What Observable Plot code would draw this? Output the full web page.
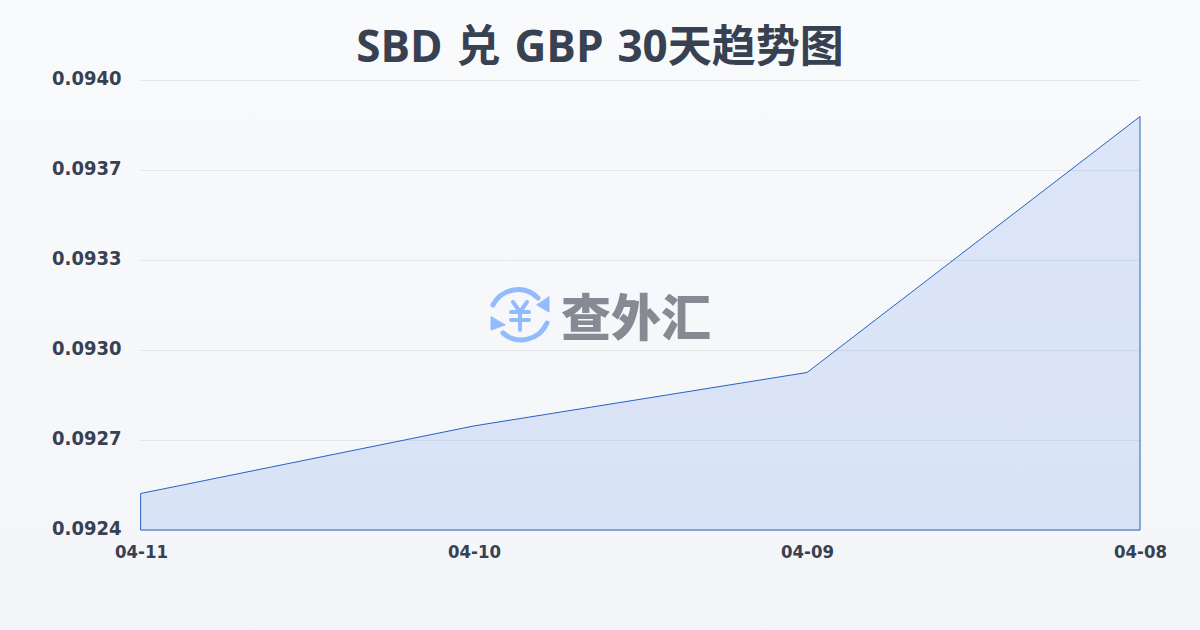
<!DOCTYPE html>
<html><head><meta charset="utf-8">
<script src="https://cdn.jsdelivr.net/npm/d3@7"></script>
<script src="https://cdn.jsdelivr.net/npm/@observablehq/plot@0.6"></script>
<style>
html,body{margin:0;padding:0}
#page{position:relative;width:1200px;height:630px;overflow:hidden;background:linear-gradient(180deg,#f9fafc,#f3f5f8);font-family:"Open Sans","Noto Sans CJK SC",sans-serif}
#title{position:absolute;left:0;right:0;top:14px;text-align:center;font-size:44px;font-weight:700;color:#374151;line-height:62px;font-family:"Open Sans","Noto Sans CJK SC",sans-serif;white-space:pre;word-spacing:2.5px}
#chart{position:absolute;left:0;top:0}
#chart svg text{font-stretch:condensed}
#mark{position:absolute;left:488px;top:285px;height:60px;display:flex;align-items:center}
#mark span{font:900 50px/60px "Noto Sans CJK SC",sans-serif;color:#858a93;margin-left:11px;letter-spacing:0;position:relative;top:-1px}
</style></head><body>
<div id="page"><div id="chart"></div>
<div id="title">SBD 兑 GBP 30天趋势图</div>
<div id="mark"><svg width="62" height="60" viewBox="0 0 62 60" fill="none" stroke="#93bbfb" stroke-width="5" stroke-linecap="round" stroke-linejoin="round">
<path d="M5 20A28 28 0 0 1 50 13"/><path d="M59 38A28 28 0 0 1 15 48"/>
<path d="M61 12V27L49 20Z" fill="#93bbfb" stroke="#93bbfb" stroke-width="1"/><path d="M3 32V45L17 40Z" fill="#93bbfb" stroke="#93bbfb" stroke-width="1"/>
<path d="M25 17L32 27L39 17M23 27H41M23 35H41M32 27V45" stroke-width="4"/></svg><span>查外汇</span></div>
</div>
<script>
const dates = ["04-11","04-10","04-09","04-08"];
const rates = [0.09253,0.09277,0.09296,0.09387];
const yTicks = [0.0924,0.09272,0.09304,0.09336,0.09368,0.094];
const yLabels = ["0.0924","0.0927","0.0930","0.0933","0.0937","0.0940"];
const rows = dates.map((d,i)=>({d,v:rates[i]}));
const chart = Plot.plot({
  width:1200,height:630,marginTop:80,marginBottom:100,marginLeft:140,marginRight:60,
  style:{background:"transparent",fontFamily:'"DejaVu Sans Condensed","DejaVu Sans",sans-serif'},
  x:{type:"point",domain:dates,padding:0,label:null},
  y:{domain:[0.0924,0.094],label:null},
  marks:[
    Plot.ruleY(yTicks,{stroke:"#e5e7eb",strokeWidth:1}),
    Plot.areaY(rows,{x:"d",y:"v",y1:0.0924,y2:"v",fill:"#2563eb",fillOpacity:0.13,stroke:"#2563c4",strokeWidth:1}),
    Plot.axisY({ticks:yTicks,tickSize:0,tickPadding:19,tickFormat:(t)=>yLabels[yTicks.indexOf(t)],fontSize:20,fontWeight:700,fill:"#374151",label:null,dy:-1.5}),
    Plot.axisX({tickSize:0,tickPadding:14,fontSize:18.4,fontWeight:700,fill:"#374151",label:null})
  ]
});
document.getElementById("chart").appendChild(chart);
</script></body></html>
